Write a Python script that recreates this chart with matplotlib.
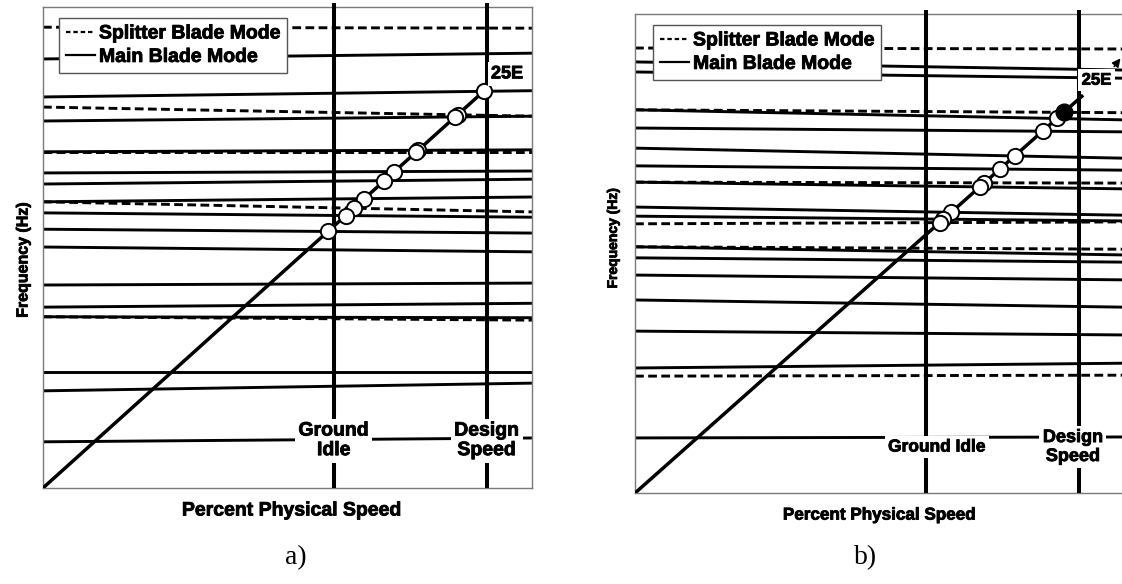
import numpy as np
import matplotlib.pyplot as plt
import matplotlib.patheffects as pe
from matplotlib.lines import Line2D

plt.rcParams['font.family'] = ['Liberation Sans', 'DejaVu Sans']

# speed axis in percent, frequency axis normalised (no tick values shown)
X_MAX = 110.0
GROUND_IDLE = 65.4
DESIGN_SPEED = 99.8

# blade modes: frequency at 0 % speed and at X_MAX, S = splitter, M = main
a_start = [95.8, 89.2, 81.3, 79.2, 76.3, 69.9, 69.9, 65.5, 63.2, 59.5, 59.5,
           57.2, 53.8, 50.1, 42.2, 37.6, 35.6, 35.6, 24.1, 20.2, 9.6]
a_end = [95.6, 90.4, 82.6, 77.3, 77.3, 70.3, 69.9, 65.9, 64.2, 60.5, 57.4,
         56.3, 53.0, 49.1, 42.6, 38.4, 35.4, 34.9, 24.1, 21.8, 10.4]
a_kind = ['S', 'M', 'M', 'S', 'M', 'M', 'S', 'M', 'M', 'M', 'S',
          'M', 'M', 'M', 'M', 'M', 'M', 'S', 'M', 'M', 'M']

b_start = [92.9, 90.0, 87.9, 80.0, 80.0, 76.2, 72.0, 68.3, 64.9, 64.9, 59.7,
           57.8, 56.2, 51.4, 51.4, 49.1, 45.5, 40.3, 33.8, 26.1, 24.4, 11.5]
b_end = [92.7, 88.3, 86.6, 79.4, 77.9, 75.4, 69.9, 67.4, 64.7, 63.5, 58.0,
         56.8, 56.6, 49.7, 50.9, 48.2, 44.5, 38.8, 33.0, 27.1, 24.6, 11.7]
b_kind = ['S', 'M', 'M', 'S', 'M', 'M', 'M', 'M', 'S', 'M', 'M',
          'M', 'S', 'M', 'S', 'M', 'M', 'M', 'M', 'M', 'S', 'M']
b_critical = 3  # splitter mode crossing marked in black

# 25E excitation line: slope and where it stops
eo_slope = [0.832, 0.824]
eo_end = [99.3, 100.8]

DASH = (0, (3, 1.5))
HEAVY = [pe.withStroke(linewidth=0.6, foreground='k')]


def draw_panel(ax, start, end, kind, slope, x_end, critical=None):
    x = np.array([0.0, X_MAX])
    for y0, y1, k in zip(start, end, kind):
        ls = DASH if k == 'S' else '-'
        ax.plot(x, [y0, y1], color='k', lw=2.1, ls=ls, solid_capstyle='butt', zorder=2)

    # speed markers poke a little above the frame
    for xs in (GROUND_IDLE, DESIGN_SPEED):
        ax.plot([xs, xs], [0, 100.8], color='k', lw=2.9, zorder=3,
                solid_capstyle='butt', clip_on=False)

    ax.plot([0, x_end], [0, slope * x_end], color='k', lw=2.5, zorder=4,
            solid_capstyle='butt')

    # crossings of the 25E line with each mode inside the operating range
    for i, (y0, y1) in enumerate(zip(start, end)):
        xc = y0 / (slope - (y1 - y0) / X_MAX)
        if GROUND_IDLE - 1.6 <= xc <= DESIGN_SPEED:
            if i == critical:
                ax.plot(xc, slope * xc, 'o', ms=12, mfc='k', mec='k', zorder=7)
            else:
                ax.plot(xc, slope * xc, 'o', ms=11, mfc='white', mec='k',
                        mew=1.4, zorder=6)

    ax.set_xlim(0, X_MAX)
    ax.set_ylim(0, 100)
    ax.set_xticks([])
    ax.set_yticks([])
    for s in ax.spines.values():
        s.set_color('#7a7a7a')
        s.set_linewidth(1.0)


fig = plt.figure(figsize=(11.22, 5.84), dpi=100)
ax_a = fig.add_axes([0.0383, 0.1644, 0.4358, 0.8236])
ax_b = fig.add_axes([0.5660, 0.1558, 0.4358, 0.8202])

draw_panel(ax_a, a_start, a_end, a_kind, eo_slope[0], eo_end[0])
draw_panel(ax_b, b_start, b_end, b_kind, eo_slope[1], eo_end[1], critical=b_critical)

box = dict(facecolor='white', edgecolor='none', pad=2.5)
lab = dict(fontweight='bold', ha='center', va='center', zorder=8, bbox=box,
           path_effects=HEAVY)

ax_a.text(GROUND_IDLE, 9.8, 'Ground\nIdle', fontsize=14, linespacing=1.2, **lab)
ax_a.text(DESIGN_SPEED, 9.8, 'Design\nSpeed', fontsize=14, linespacing=1.2, **lab)
ax_a.text(104.4, 86.1, '25E', fontsize=13, **lab)

ax_b.text(67.9, 9.6, 'Ground Idle', fontsize=12.5, **lab)
ax_b.text(98.5, 9.6, 'Design\nSpeed', fontsize=13, linespacing=1.15, **lab)
ax_b.text(103.8, 86.2, '25E', fontsize=12, **lab)
arrow = ax_b.annotate('', xy=(109.6, 91.2), xytext=(107.4, 88.6),
                      arrowprops=dict(arrowstyle='-|>', color='k', lw=1.2,
                                      mutation_scale=12))
arrow.set_zorder(9)

handles = [Line2D([], [], color='k', lw=1.6, ls=(0, (2, 1.3))),
           Line2D([], [], color='k', lw=1.6)]
names = ['Splitter Blade Mode', 'Main Blade Mode']
for ax, anchor in [(ax_a, (0.033, 0.977)), (ax_b, (0.037, 0.977))]:
    leg = ax.legend(handles, names, loc='upper left', bbox_to_anchor=anchor,
                    prop=dict(weight='bold', size=14), frameon=True,
                    fancybox=False, framealpha=1, edgecolor='#555555',
                    handlelength=1.5, handletextpad=0.2, labelspacing=0.3,
                    borderpad=0.35, borderaxespad=0)
    leg.get_frame().set_linewidth(1.0)
    leg.set_zorder(9)
    for t in leg.get_texts():
        t.set_path_effects(HEAVY)

fig.text(0.0205, 0.555, 'Frequency (Hz)', rotation=90, ha='center', va='center',
         fontsize=11.5, fontweight='bold', path_effects=HEAVY)
fig.text(0.2600, 0.125, 'Percent Physical Speed', ha='center', va='center',
         fontsize=14, fontweight='bold', path_effects=HEAVY)
fig.text(0.5463, 0.592, 'Frequency (Hz)', rotation=90, ha='center', va='center',
         fontsize=10, fontweight='bold', path_effects=HEAVY)
fig.text(0.784, 0.118, 'Percent Physical Speed', ha='center', va='center',
         fontsize=12.3, fontweight='bold', path_effects=HEAVY)

fig.text(0.2638, 0.045, 'a)', ha='center', va='center', fontsize=20,
         family=['Liberation Serif', 'DejaVu Serif'])
fig.text(0.7718, 0.045, 'b)', ha='center', va='center', fontsize=20,
         family=['Liberation Serif', 'DejaVu Serif'])

fig.savefig('out.png', dpi=100)
